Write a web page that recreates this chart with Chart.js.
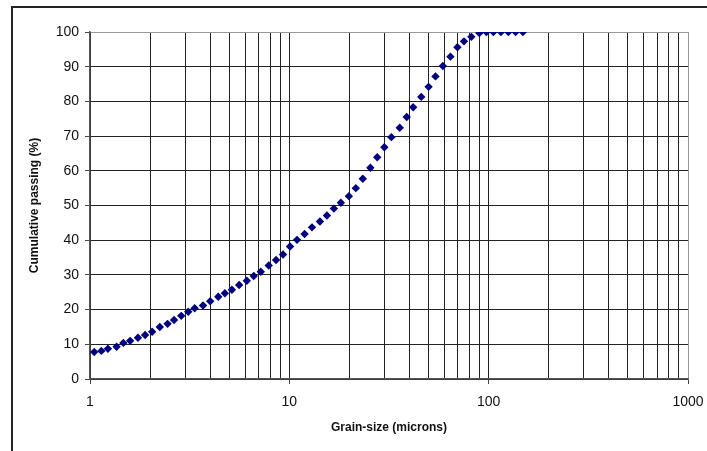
<!DOCTYPE html>
<html>
<head>
<meta charset="utf-8">
<script src="https://cdn.jsdelivr.net/npm/chart.js@4.4.1/dist/chart.umd.min.js"></script>
<style>
  html, body { margin: 0; padding: 0; background: #fff; overflow: hidden; }
  #wrap { position: relative; width: 707px; height: 451px; }
  #frame { position: absolute; left: 11px; top: 6px; width: 720px; height: 470px; border: 2px solid #222; box-sizing: border-box; pointer-events: none; }
  canvas { position: absolute; left: 0; top: 0; }
</style>
</head>
<body>
<div id="wrap">
  <canvas id="chart" width="707" height="451"></canvas>
  <div id="frame"></div>
</div>
<script>
// grain size (microns) and cumulative passing (%)
const grainSize = [
  1.05, 1.14, 1.23, 1.36, 1.47, 1.59, 1.74, 1.89, 2.05, 2.24,
  2.45, 2.64, 2.87, 3.11, 3.35, 3.69, 4.01, 4.40, 4.75, 5.15,
  5.60, 6.12, 6.63, 7.19, 7.88, 8.58, 9.30, 10.08, 10.93, 11.93,
  12.99, 14.24, 15.44, 16.73, 18.14, 19.89, 21.55, 23.36, 25.5, 27.6,
  29.96, 32.5, 35.8, 38.8, 41.8, 45.9, 49.95, 54.1, 58.9, 64.3,
  69.7, 75.2, 81.9, 89.8, 97.4, 105.6, 115.2, 125.5, 136.5, 148.5
];
const passing = [
  7.8, 8.1, 8.7, 9.3, 10.4, 11.0, 11.9, 12.7, 13.6, 15.0,
  15.9, 17.0, 18.2, 19.4, 20.4, 21.2, 22.4, 23.7, 24.7, 25.7,
  27.1, 28.3, 29.7, 30.9, 32.7, 34.3, 35.9, 38.2, 40.1, 41.8,
  43.7, 45.4, 47.1, 49.1, 50.8, 52.7, 55.0, 57.7, 60.9, 63.9,
  66.8, 69.7, 72.4, 75.5, 78.3, 81.3, 84.2, 87.2, 90.2, 92.9,
  95.6, 97.3, 98.6, 99.7, 100, 100, 100, 100, 100, 100
];
const xDecades = [1, 10, 100, 1000];
const yTicks = [0, 10, 20, 30, 40, 50, 60, 70, 80, 90, 100];

const points = grainSize.map((g, i) => ({ x: g, y: passing[i] }));

// every 1..9 multiple inside each decade gets a grid line
const xGrid = [];
for (let d = 0; d < xDecades.length - 1; d++) {
  for (let m = 1; m < 10; m++) xGrid.push(xDecades[d] * m);
}
xGrid.push(xDecades[xDecades.length - 1]);

const isDecade = v => xDecades.includes(v);
const lineColor = '#222';
const edgeColor = '#999';
const fontFamily = 'Liberation Sans, Arial, sans-serif';

new Chart(document.getElementById('chart'), {
  type: 'scatter',
  data: {
    datasets: [{
      data: points,
      pointStyle: 'rectRot',
      pointRadius: 4.2,
      pointHoverRadius: 4.2,
      backgroundColor: '#000080',
      borderColor: '#000080',
      borderWidth: 0,
      showLine: false
    }]
  },
  options: {
    responsive: false,
    animation: false,
    layout: { padding: { left: 0, right: 19, top: 32, bottom: 0 } },
    plugins: { legend: { display: false }, tooltip: { enabled: false } },
    scales: {
      x: {
        type: 'logarithmic',
        min: 1,
        max: 1000,
        afterBuildTicks: scale => { scale.ticks = xGrid.map(v => ({ value: v })); },
        afterFit: scale => {
          scale.height = 72;
          scale.paddingLeft = 0;
          scale.paddingRight = 0;
        },
        ticks: {
          autoSkip: false,
          maxRotation: 0,
          padding: 10,
          color: '#111',
          font: { family: fontFamily, size: 14 },
          callback: v => isDecade(v) ? String(v) : ''
        },
        grid: {
          color: ctx => (ctx.tick && ctx.tick.value === 1000) ? edgeColor : lineColor,
          lineWidth: 1,
          tickLength: 5,
          tickColor: ctx => (ctx.tick && isDecade(ctx.tick.value)) ? '#444' : 'rgba(0,0,0,0)'
        },
        border: { color: '#555', width: 1.5 },
        title: {
          display: true,
          text: 'Grain-size (microns)',
          color: '#111',
          font: { family: fontFamily, size: 12, weight: 'bold' },
          padding: { top: 0, bottom: 16 }
        }
      },
      y: {
        min: 0,
        max: 100,
        afterBuildTicks: scale => { scale.ticks = yTicks.map(v => ({ value: v })); },
        afterFit: scale => { scale.width = 90; },
        ticks: {
          padding: 6,
          color: '#111',
          font: { family: fontFamily, size: 14 }
        },
        grid: {
          color: ctx => (ctx.tick && ctx.tick.value === 100) ? edgeColor : lineColor,
          lineWidth: 1,
          tickLength: 5,
          tickColor: '#444'
        },
        border: { color: '#555', width: 1.5 },
        title: {
          display: true,
          text: 'Cumulative passing (%)',
          color: '#111',
          font: { family: fontFamily, size: 12, weight: 'bold' },
          padding: { top: 27, bottom: 0 }
        }
      }
    }
  }
});
</script>
</body>
</html>
